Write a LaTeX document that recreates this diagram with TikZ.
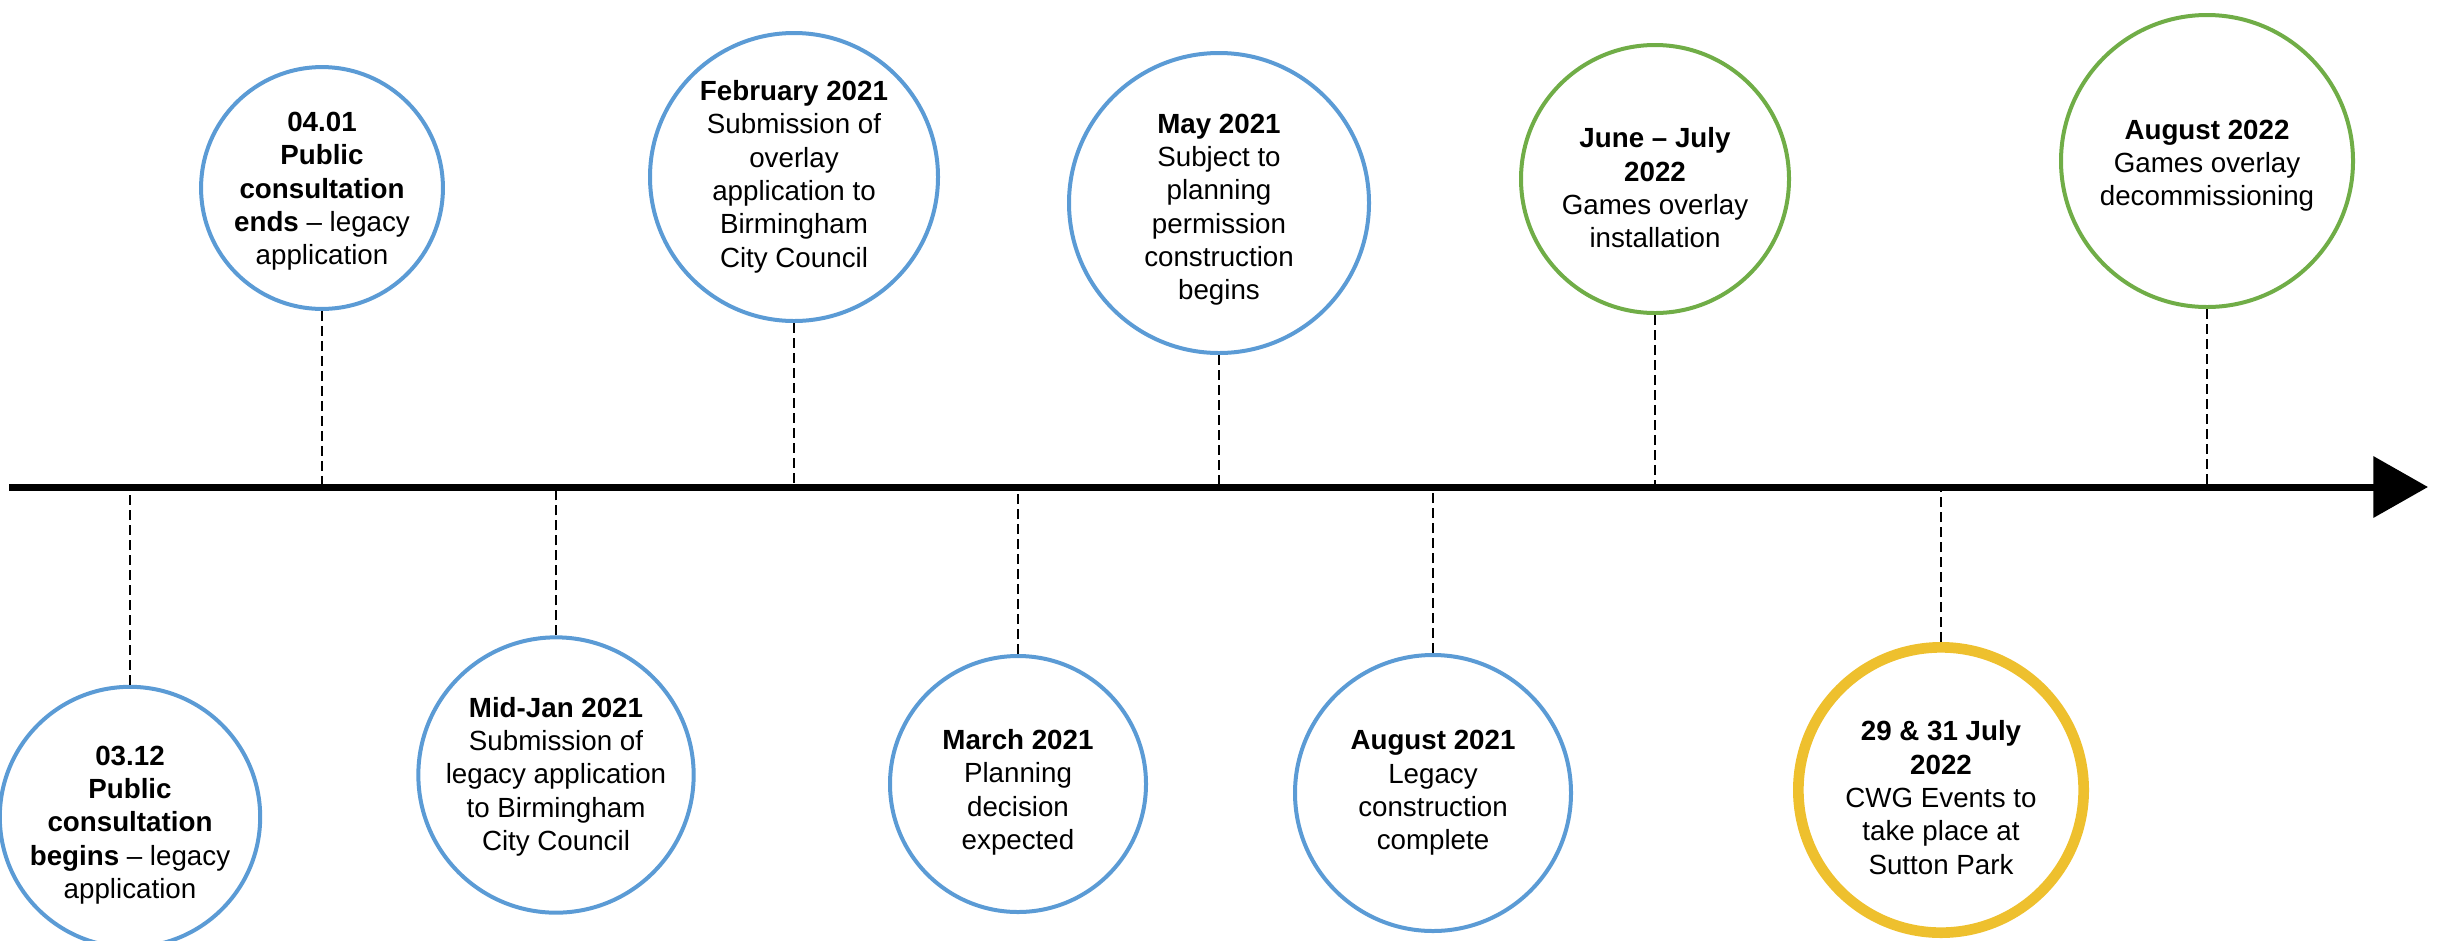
\documentclass[tikz,border=0pt]{standalone}
\usepackage{fontspec}
\setmainfont{Liberation Sans}
\usetikzlibrary{arrows.meta}

\definecolor{tlblue}{RGB}{91,155,213}
\definecolor{tlgreen}{RGB}{112,173,71}
\definecolor{tlyellow}{RGB}{238,192,46}

% lines of an event, dropped a little below the circle centre
\newcommand{\eventtext}[2]{\raisebox{-#1}[\height][\depth]{\begin{tabular}{@{}c@{}}#2\end{tabular}}}

\begin{document}
\begin{tikzpicture}[x=0.75pt,y=0.75pt,yscale=-1,xscale=1,
	event/.style={circle,draw=tlblue,line width=3pt,inner sep=0pt,font=\fontsize{20.8}{25}\selectfont},
	games/.style={event,draw=tlgreen},
	races/.style={event,draw=tlyellow,line width=8pt},
	leader/.style={line width=1.5pt,dash pattern=on 7.5pt off 3.75pt}]
			%set diagram size
			\useasboundingbox (0,0) rectangle (2451,940);

			%Straight Lines [id:timeline]
			\coordinate (axisL) at (9,487);
			\coordinate (axisR) at (2428,487);
			\draw [line width=5.25pt,-{Triangle[length=41pt,width=45pt]}] (axisL) -- (axisR);

			%Shape: Circle [id:c0312]
			\node [event,minimum size=178.5pt] (c0312) at (130,817) {\eventtext{6pt}{\textbf{03.12}\\\textbf{Public}\\\textbf{consultation}\\\textbf{begins} -- legacy\\application}};
			%Shape: Circle [id:c0401]
			\node [event,minimum size=180pt] (c0401) at (322,188) {\eventtext{2.5pt}{\textbf{04.01}\\\textbf{Public}\\\textbf{consultation}\\\textbf{ends} -- legacy\\application}};
			%Shape: Circle [id:cjan]
			\node [event,minimum size=205.5pt] (cjan) at (556,775) {\eventtext{1.5pt}{\textbf{Mid-Jan 2021}\\Submission of\\legacy application\\to Birmingham\\City Council}};
			%Shape: Circle [id:cfeb]
			\node [event,minimum size=216pt] (cfeb) at (794,177) {\eventtext{0pt}{\textbf{February 2021}\\Submission of\\overlay\\application to\\Birmingham\\City Council}};
			%Shape: Circle [id:cmar]
			\node [event,minimum size=192pt] (cmar) at (1018,784) {\eventtext{6.5pt}{\textbf{March 2021}\\Planning\\decision\\expected}};
			%Shape: Circle [id:cmay]
			\node [event,minimum size=225pt] (cmay) at (1219,203) {\eventtext{5pt}{\textbf{May 2021}\\Subject to\\planning\\permission\\construction\\begins}};
			%Shape: Circle [id:caug21]
			\node [event,minimum size=207pt] (caug21) at (1433,793) {\eventtext{0pt}{\textbf{August 2021}\\Legacy\\construction\\complete}};
			%Shape: Circle [id:cjun]
			\node [games,minimum size=201pt] (cjun) at (1655,179) {\eventtext{9pt}{\textbf{June -- July}\\\textbf{2022}\\Games overlay\\installation}};
			%Shape: Circle [id:cjul]
			\node [races,minimum size=214pt] (cjul) at (1941,790) {\eventtext{8pt}{\textbf{29 \& 31 July}\\\textbf{2022}\\CWG Events to\\take place at\\Sutton Park}};
			%Shape: Circle [id:caug22]
			\node [games,minimum size=219pt] (caug22) at (2207,161) {\eventtext{3.5pt}{\textbf{August 2022}\\Games overlay\\decommissioning}};

			%Dashed Lines
			\draw [leader] (c0312) -- (c0312 |- axisL);
			\draw [leader] (c0401) -- (c0401 |- axisL);
			\draw [leader] (cjan) -- (cjan |- axisL);
			\draw [leader] (cfeb) -- (cfeb |- axisL);
			\draw [leader] (cmar) -- (cmar |- axisL);
			\draw [leader] (cmay) -- (cmay |- axisL);
			\draw [leader] (caug21) -- (caug21 |- axisL);
			\draw [leader] (cjun) -- (cjun |- axisL);
			\draw [leader] (cjul) -- (cjul |- axisL);
			\draw [leader] (caug22) -- (caug22 |- axisL);
		\end{tikzpicture}
\end{document}
